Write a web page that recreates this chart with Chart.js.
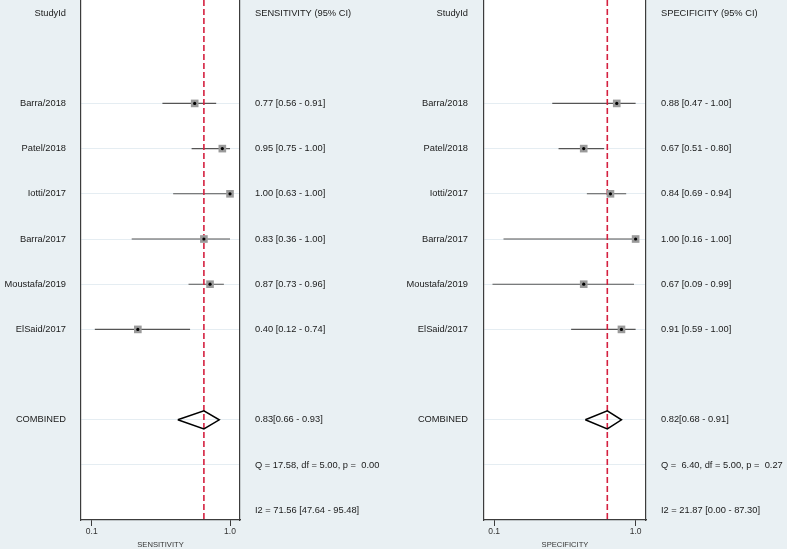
<!DOCTYPE html>
<html>
<head>
<meta charset="utf-8">
<script src="https://cdn.jsdelivr.net/npm/chart.js@4.4.1/dist/chart.umd.min.js"></script>
<style>
  html, body { margin: 0; padding: 0; background: #e9f0f3; }
  #wrap { position: relative; width: 787px; height: 549px; overflow: hidden; }
  canvas { position: absolute; top: 0; }
  #sens { left: 0; }
  #spec { left: 393px; }
</style>
</head>
<body>
<div id="wrap">
  <canvas id="sens" width="393" height="549"></canvas>
  <canvas id="spec" width="394" height="549"></canvas>
</div>
<script>
// Study data
const studies = ['Barra/2018', 'Patel/2018', 'Iotti/2017', 'Barra/2017', 'Moustafa/2019', 'ElSaid/2017'];

const sens   = [0.77, 0.95, 1.00, 0.83, 0.87, 0.40];
const sensLo = [0.56, 0.75, 0.63, 0.36, 0.73, 0.12];
const sensHi = [0.91, 1.00, 1.00, 1.00, 0.96, 0.74];
const sensPooled = [0.83, 0.66, 0.93];        // estimate, lower, upper
const sensHet = [17.58, 5.00, 0.00];          // Q, df, p
const sensI2  = [71.56, 47.64, 95.48];        // I2, lower, upper

const spec   = [0.88, 0.67, 0.84, 1.00, 0.67, 0.91];
const specLo = [0.47, 0.51, 0.69, 0.16, 0.09, 0.59];
const specHi = [1.00, 0.80, 0.94, 1.00, 0.99, 1.00];
const specPooled = [0.82, 0.68, 0.91];
const specHet = [6.40, 5.00, 0.27];
const specI2  = [21.87, 0.00, 87.30];

const xTicks = [0.1, 1.0];

// Row layout: 0 header, 2-7 studies, 9 combined, 10 Q, 11 I2
const studyRows = [2, 3, 4, 5, 6, 7];
const combinedRow = 9;
const gridRows = [2, 3, 4, 5, 6, 7, 9, 10];

const FONT = "'Liberation Sans', Arial, Helvetica, sans-serif";
const TEXT = '#1a1a1a';
const AXIS = '#3c3c3c';

function f2(v) { return v.toFixed(2); }

// Paint the plot region white
const plotBg = {
    id: 'plotBg',
    beforeDraw(chart) {
        const { ctx, chartArea: a } = chart;
        ctx.save();
        ctx.fillStyle = '#ffffff';
        ctx.fillRect(a.left, a.top, a.right - a.left, a.bottom - a.top);
        ctx.restore();
    }
};

// keep the plot box flush with the canvas top
function noEdgePadding(scale) {
    scale.paddingTop = 0;
    scale.paddingBottom = 0;
    scale.paddingLeft = 0;
    scale.paddingRight = 0;
}

function buildForest(canvasId, cfg) {
    const leftLabels = ['StudyId', ''].concat(cfg.studies, ['', 'COMBINED', '', '']);
    const rightLabels = [cfg.header, ''].concat(
        cfg.est.map((v, i) => `${f2(v)} [${f2(cfg.lo[i])} - ${f2(cfg.hi[i])}]`),
        ['',
         `${f2(cfg.pooled[0])}[${f2(cfg.pooled[1])} - ${f2(cfg.pooled[2])}]`,
         `Q = ${f2(cfg.het[0]).padStart(5)}, df = ${f2(cfg.het[1])}, p = ${f2(cfg.het[2]).padStart(5)}`,
         `I2 = ${f2(cfg.i2[0])} [${f2(cfg.i2[1])} - ${f2(cfg.i2[2])}]`]
    );

    // CI whiskers as one broken line
    const ciData = [];
    cfg.est.forEach((v, i) => {
        ciData.push({ x: cfg.lo[i], y: studyRows[i] });
        ciData.push({ x: cfg.hi[i], y: studyRows[i] });
        ciData.push({ x: cfg.hi[i], y: null });
    });
    const pointData = cfg.est.map((v, i) => ({ x: v, y: studyRows[i] }));
    const p = cfg.pooled;
    const dh = 0.2;
    const diamond = [
        { x: p[1], y: combinedRow },
        { x: p[0], y: combinedRow - dh },
        { x: p[2], y: combinedRow },
        { x: p[0], y: combinedRow + dh },
        { x: p[1], y: combinedRow }
    ];
    const yMin = -0.288, yMax = 11.217;
    const refLine = [{ x: p[0], y: yMin }, { x: p[0], y: yMax }];

    const ctx = document.getElementById(canvasId).getContext('2d');
    return new Chart(ctx, {
        type: 'scatter',
        data: {
            datasets: [
                { type: 'scatter', data: pointData, pointStyle: 'circle', pointRadius: 1.6,
                  backgroundColor: '#000', borderWidth: 0, order: 0 },
                { type: 'scatter', data: pointData, pointStyle: 'rect', pointRadius: 5.4,
                  backgroundColor: '#9a9a9a', borderWidth: 0, order: 1 },
                { type: 'line', data: diamond, borderColor: '#000', borderWidth: 1.5,
                  pointRadius: 0, fill: false, tension: 0, order: 2 },
                { type: 'line', data: refLine, borderColor: '#d4203f', borderWidth: 1.6,
                  borderDash: [6, 3], pointRadius: 0, fill: false, order: 3 },
                { type: 'line', data: ciData, borderColor: '#555555', borderWidth: 1.1,
                  pointRadius: 0, fill: false, spanGaps: false, order: 4 }
            ]
        },
        options: {
            responsive: false,
            animation: false,
            events: [],
            layout: { padding: 0, autoPadding: false },
            plugins: { legend: { display: false }, tooltip: { enabled: false } },
            scales: {
                x: {
                    type: 'linear',
                    position: 'bottom',
                    min: cfg.xMin,
                    max: cfg.xMax,
                    afterBuildTicks: (scale) => { scale.ticks = xTicks.map(v => ({ value: v })); },
                    afterFit: (scale) => { scale.height = 29; noEdgePadding(scale); },
                    grid: { drawOnChartArea: false, drawTicks: true, tickLength: 6, color: AXIS, lineWidth: 1 },
                    border: { display: true, color: AXIS, width: 1.2 },
                    ticks: {
                        padding: 1,
                        autoSkip: false,
                        maxRotation: 0,
                        color: '#333',
                        font: { family: FONT, size: 8.5 },
                        callback: (v) => Number(v).toFixed(1)
                    },
                    title: {
                        display: true,
                        text: cfg.axisTitle,
                        color: '#333',
                        padding: 0,
                        font: { family: FONT, size: 7.6 }
                    }
                },
                y: {
                    type: 'linear',
                    position: 'left',
                    reverse: true,
                    min: yMin,
                    max: yMax,
                    afterBuildTicks: (scale) => { scale.ticks = leftLabels.map((l, i) => ({ value: i })); },
                    afterFit: (scale) => { scale.width = cfg.leftWidth; noEdgePadding(scale); },
                    grid: {
                        drawTicks: false,
                        lineWidth: 1,
                        color: (c) => gridRows.includes(c.tick && c.tick.value) ? '#e5edf2' : 'rgba(0,0,0,0)'
                    },
                    border: { display: true, color: AXIS, width: 1.2 },
                    ticks: {
                        padding: cfg.labelPad,
                        autoSkip: false,
                        color: TEXT,
                        font: { family: FONT, size: 9.3 },
                        callback: (v, i) => leftLabels[i]
                    }
                },
                y2: {
                    type: 'linear',
                    position: 'right',
                    reverse: true,
                    min: yMin,
                    max: yMax,
                    afterBuildTicks: (scale) => { scale.ticks = rightLabels.map((l, i) => ({ value: i })); },
                    afterFit: (scale) => { scale.width = cfg.rightWidth; noEdgePadding(scale); },
                    grid: { drawOnChartArea: false, drawTicks: false },
                    border: { display: true, color: AXIS, width: 1.2 },
                    ticks: {
                        padding: 15,
                        autoSkip: false,
                        color: TEXT,
                        font: { family: FONT, size: 9.3 },
                        callback: (v, i) => rightLabels[i]
                    }
                }
            }
        },
        plugins: [plotBg]
    });
}

document.addEventListener('DOMContentLoaded', function() {
    buildForest('sens', {
        studies: studies, est: sens, lo: sensLo, hi: sensHi,
        pooled: sensPooled, het: sensHet, i2: sensI2,
        header: 'SENSITIVITY (95% CI)', axisTitle: 'SENSITIVITY',
        xMin: 0.03, xMax: 1.065,
        leftWidth: 81, rightWidth: 153, labelPad: 15
    });
    buildForest('spec', {
        studies: studies, est: spec, lo: specLo, hi: specHi,
        pooled: specPooled, het: specHet, i2: specI2,
        header: 'SPECIFICITY (95% CI)', axisTitle: 'SPECIFICITY',
        xMin: 0.036, xMax: 1.066,
        leftWidth: 91, rightWidth: 141, labelPad: 16
    });
});
</script>
</body>
</html>
